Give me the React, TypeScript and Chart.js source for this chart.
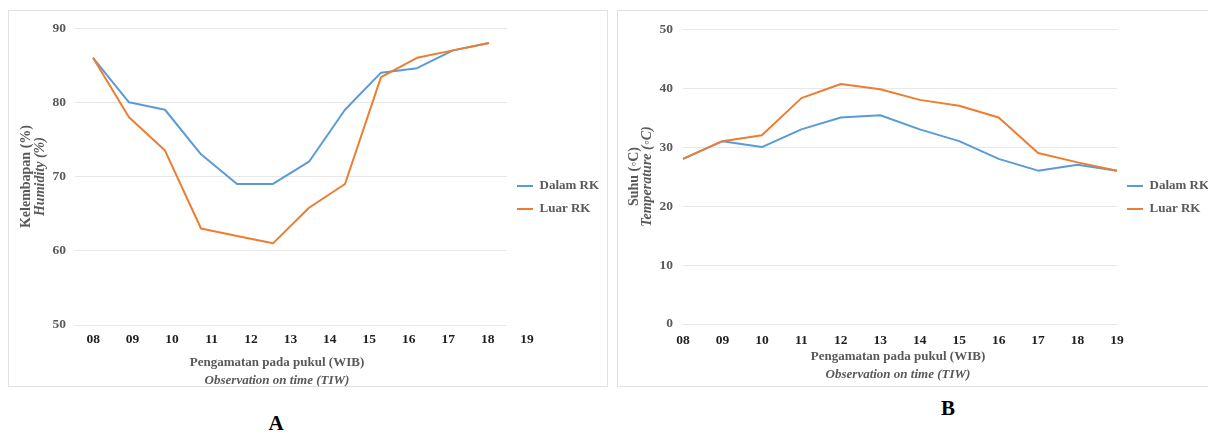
import React, { useEffect, useRef } from 'react';
import { Chart, registerables } from 'chart.js';

Chart.register(...registerables);

// Observation hours (WIB)
const HOURS = ['08', '09', '10', '11', '12', '13', '14', '15', '16', '17', '18', '19'];
const HOUR_VALUES = HOURS.map((h) => Number(h));

// Relative humidity (%)
const HUMIDITY_IN = [86, 80, 79, 73, 69, 69, 72, 79, 84, 84.6, 87, 88];
const HUMIDITY_OUT = [86, 78, 73.5, 63, 62, 61, 65.8, 69, 83.4, 86, 87, 88];

// Air temperature (°C)
const TEMP_IN = [28, 31, 30, 33, 35, 35.4, 33, 31, 28, 26, 27, 26];
const TEMP_OUT = [28, 31, 32, 38.3, 40.7, 39.8, 38, 37, 35, 29, 27.4, 26];

const SERIES = ['Dalam RK', 'Luar RK'];
const HUMIDITY_RANGE = [50, 90];
const TEMP_RANGE = [0, 50];
const Y_STEP = 10;

const SERIF = '"Liberation Serif", "Times New Roman", serif';
const BLUE = '#5B9BD5';
const ORANGE = '#ED7D31';
const GREY_TEXT = '#595959';
const DARK_TEXT = '#1f1f1f';
const GRID = '#e8e8e8';
const FRAME = '#e2e2e2';

type TitleLine = { text: string; font: string };
type TitleOpts = {
  yLines: TitleLine[];
  yAt: number[];
  xLines: TitleLine[];
  xAt: number[];
  xShift: number;
  color: string;
};

// Two-line axis titles (regular + italic translation) drawn around the plot area
const twoLineTitles = {
  id: 'twoLineTitles',
  afterDraw(chart: any, _args: any, opts: TitleOpts) {
    const { ctx, chartArea } = chart;
    const midY = (chartArea.top + chartArea.bottom) / 2;
    const midX = (chartArea.left + chartArea.right) / 2 + (opts.xShift || 0);
    ctx.save();
    ctx.fillStyle = opts.color;
    ctx.textAlign = 'center';
    ctx.textBaseline = 'middle';
    opts.yLines.forEach((line, i) => {
      ctx.save();
      ctx.translate(opts.yAt[i], midY);
      ctx.rotate(-Math.PI / 2);
      ctx.font = line.font;
      ctx.fillText(line.text, 0, 0);
      ctx.restore();
    });
    opts.xLines.forEach((line, i) => {
      ctx.font = line.font;
      ctx.fillText(line.text, midX, opts.xAt[i]);
    });
    ctx.restore();
  },
};

const tickFont = { family: SERIF, size: 13.5, weight: 'bold' as const };
const legendFont = { family: SERIF, size: 13, weight: 'bold' as const };
const boldTitle = `bold 13px ${SERIF}`;
const italicTitle = `italic bold 13px ${SERIF}`;
const boldYTitle = `bold 14px ${SERIF}`;
const italicYTitle = `italic bold 14px ${SERIF}`;

function datasets(inside: number[], outside: number[]) {
  const common = {
    xAxisID: 'x',
    yAxisID: 'y',
    borderWidth: 2,
    pointRadius: 0,
    pointHoverRadius: 0,
    tension: 0,
    fill: false,
    borderJoinStyle: 'round' as const,
  };
  return [
    { ...common, label: SERIES[0], data: inside, borderColor: BLUE, backgroundColor: BLUE, order: 1 },
    { ...common, label: SERIES[1], data: outside, borderColor: ORANGE, backgroundColor: ORANGE, order: 0 },
  ];
}

function legendOptions(maxWidth: number) {
  return {
    position: 'right' as const,
    maxWidth,
    labels: {
      usePointStyle: true,
      pointStyle: 'line' as const,
      pointStyleWidth: 16,
      padding: 10,
      color: GREY_TEXT,
      font: legendFont,
      sort: (a: any, b: any) => a.datasetIndex - b.datasetIndex,
    },
  };
}

function yScale(range: number[], width: number, padding: number) {
  return {
    min: range[0],
    max: range[1],
    ticks: { stepSize: Y_STEP, padding, color: GREY_TEXT, font: tickFont },
    grid: { color: GRID, lineWidth: 1, drawTicks: false },
    border: { display: false },
    afterFit: (s: any) => {
      s.width = width;
    },
  };
}

function humidityConfig(): any {
  return {
    type: 'line',
    data: { labels: HOURS, datasets: datasets(HUMIDITY_IN, HUMIDITY_OUT) },
    options: {
      animation: false,
      responsive: false,
      devicePixelRatio: 1,
      layout: { padding: { top: 11, bottom: 13, left: 0, right: 0 } },
      scales: {
        x: { type: 'category', display: false, offset: true },
        hour: {
          type: 'linear',
          position: 'bottom',
          bounds: 'data',
          min: 7.54,
          max: 18.49,
          afterBuildTicks: (s: any) => {
            s.ticks = HOUR_VALUES.map((v) => ({ value: v }));
          },
          ticks: {
            autoSkip: false,
            maxRotation: 0,
            padding: -2,
            color: DARK_TEXT,
            font: tickFont,
            callback: (_v: any, i: number) => HOURS[i],
          },
          grid: { display: false },
          border: { display: false },
          afterFit: (s: any) => {
            s.height = 48;
          },
        },
        y: yScale(HUMIDITY_RANGE, 66, 9),
      },
      plugins: {
        legend: legendOptions(100),
        tooltip: { enabled: false },
        twoLineTitles: {
          yLines: [
            { text: 'Kelembapan (%)', font: boldYTitle },
            { text: 'Humidity (%)', font: italicYTitle },
          ],
          yAt: [17, 31],
          xLines: [
            { text: 'Pengamatan pada pukul (WIB)', font: boldTitle },
            { text: 'Observation on time (TIW)', font: italicTitle },
          ],
          xAt: [352, 370],
          xShift: -14,
          color: GREY_TEXT,
        },
      },
    },
    plugins: [twoLineTitles],
  };
}

function temperatureConfig(): any {
  return {
    type: 'line',
    data: { labels: HOURS, datasets: datasets(TEMP_IN, TEMP_OUT) },
    options: {
      animation: false,
      responsive: false,
      devicePixelRatio: 1,
      layout: { padding: { top: 12, bottom: 14, left: 0, right: 0 } },
      scales: {
        x: {
          type: 'category',
          offset: false,
          ticks: { autoSkip: false, maxRotation: 0, padding: 0, color: DARK_TEXT, font: tickFont },
          grid: { display: false },
          border: { display: false },
          afterFit: (s: any) => {
            s.height = 48;
          },
        },
        y: yScale(TEMP_RANGE, 65, 10),
      },
      plugins: {
        legend: legendOptions(91),
        tooltip: { enabled: false },
        twoLineTitles: {
          yLines: [
            { text: 'Suhu (◦C)', font: boldYTitle },
            { text: 'Temperature (◦C)', font: italicYTitle },
          ],
          yAt: [16, 29],
          xLines: [
            { text: 'Pengamatan pada pukul (WIB)', font: boldTitle },
            { text: 'Observation on time (TIW)', font: italicTitle },
          ],
          xAt: [346, 364],
          xShift: -2,
          color: GREY_TEXT,
        },
      },
    },
    plugins: [twoLineTitles],
  };
}

function ChartPanel(props: {
  make: () => any;
  left: number;
  width: number;
  openRight?: boolean;
}) {
  const ref = useRef<HTMLCanvasElement | null>(null);
  useEffect(() => {
    if (!ref.current) return;
    const chart = new Chart(ref.current, props.make());
    return () => chart.destroy();
  }, []);
  const frameW = props.width;
  const frameH = 377;
  return (
    <div
      style={{
        position: 'absolute',
        left: props.left,
        top: 10,
        width: frameW,
        height: frameH,
        boxSizing: 'border-box',
        border: `1px solid ${FRAME}`,
        borderRight: props.openRight ? 'none' : `1px solid ${FRAME}`,
      }}
    >
      <canvas
        ref={ref}
        width={frameW - (props.openRight ? 1 : 2)}
        height={frameH - 2}
        style={{ position: 'absolute', left: 0, top: 0 }}
      />
    </div>
  );
}

const letterStyle: React.CSSProperties = {
  position: 'absolute',
  width: 40,
  textAlign: 'center',
  fontFamily: SERIF,
  fontWeight: 'bold',
  fontSize: 21,
  lineHeight: '24px',
  color: '#000',
};

export default function App() {
  return (
    <div
      style={{
        position: 'fixed',
        left: 0,
        top: 0,
        width: 1208,
        height: 433,
        overflow: 'hidden',
        background: '#fff',
      }}
    >
      <ChartPanel make={humidityConfig} left={8} width={600} />
      <ChartPanel make={temperatureConfig} left={617} width={591} openRight />
      <div style={{ ...letterStyle, left: 256, top: 411 }}>A</div>
      <div style={{ ...letterStyle, left: 928, top: 396 }}>B</div>
    </div>
  );
}
